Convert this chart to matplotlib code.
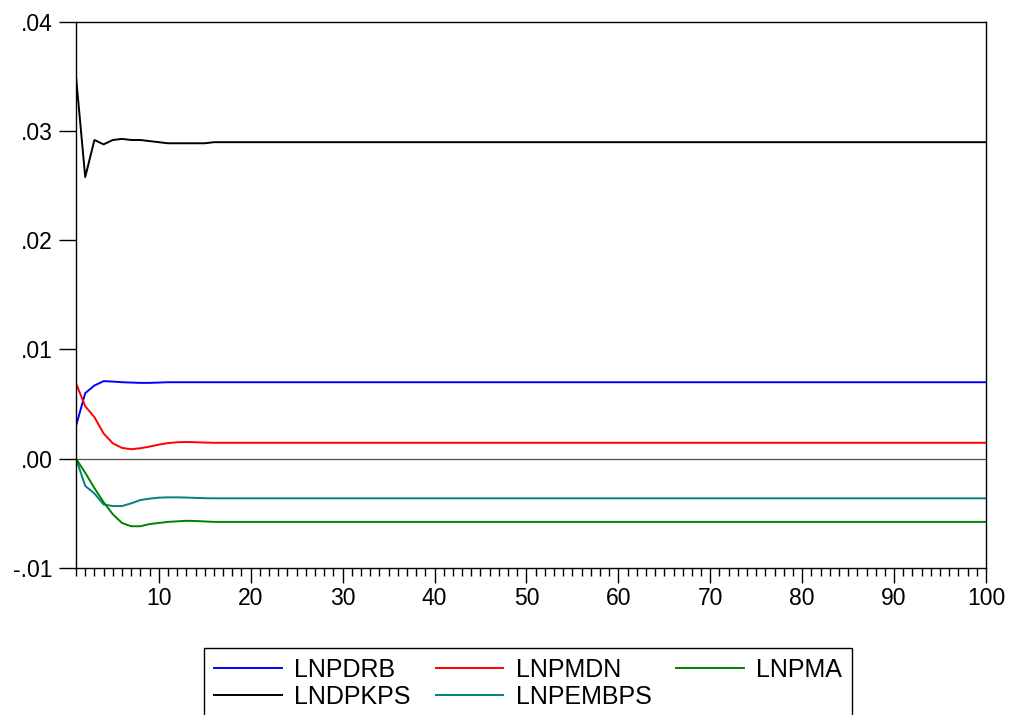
import matplotlib
matplotlib.use("Agg")
import matplotlib.pyplot as plt
from matplotlib.ticker import MultipleLocator, FuncFormatter
import numpy as np

plt.rcParams['font.family'] = ['Liberation Sans', 'DejaVu Sans']

N_PERIODS = 100
periods = np.arange(1, N_PERIODS + 1)

# Impulse responses: transient part, then the settled level
lnpdrb_start = [0.0030, 0.0060, 0.0067, 0.0071, 0.00706, 0.0070, 0.00697,
                0.00694, 0.00694, 0.00697]
lnpdrb_level = 0.0070

lnpmdn_start = [0.0069, 0.0048, 0.0038, 0.0023, 0.0014, 0.00098, 0.00086,
                0.00095, 0.0011, 0.00128, 0.00142, 0.0015, 0.00152, 0.0015,
                0.00147]
lnpmdn_level = 0.00145

lnpma_start = [0.0, -0.0013, -0.0027, -0.0040, -0.0051, -0.0059, -0.0062,
               -0.0062, -0.0060, -0.0059, -0.0058, -0.00575, -0.0057,
               -0.00572, -0.00576]
lnpma_level = -0.0058

lndpkps_start = [0.0350, 0.0258, 0.0292, 0.0288, 0.0292, 0.0293, 0.0292,
                 0.0292, 0.0291, 0.0290, 0.0289, 0.0289, 0.0289, 0.0289,
                 0.0289]
lndpkps_level = 0.0290

lnpembps_start = [0.0, -0.0025, -0.0032, -0.0042, -0.00435, -0.00435,
                  -0.0041, -0.0038, -0.00367, -0.00358, -0.00355, -0.00355,
                  -0.00357, -0.0036, -0.00363]
lnpembps_level = -0.00364


def full_path(start, level):
    return start + [level] * (N_PERIODS - len(start))


series = [
    ("LNPDRB", full_path(lnpdrb_start, lnpdrb_level), "#0000FF"),
    ("LNDPKPS", full_path(lndpkps_start, lndpkps_level), "#000000"),
    ("LNPMDN", full_path(lnpmdn_start, lnpmdn_level), "#FF0000"),
    ("LNPEMBPS", full_path(lnpembps_start, lnpembps_level), "#008080"),
    ("LNPMA", full_path(lnpma_start, lnpma_level), "#008000"),
]

fig = plt.figure(figsize=(10.11, 7.15), dpi=100)
ax = fig.add_axes([0.0752, 0.206, 0.9001, 0.763])

ax.axhline(0, color="#505050", lw=0.9, zorder=1)
handles = []
for name, vals, col in series:
    h, = ax.plot(periods, vals, color=col, lw=1.4, label=name, zorder=2)
    handles.append(h)

ax.set_xlim(1, 100)
ax.set_ylim(-0.01, 0.04)
ax.xaxis.set_major_locator(MultipleLocator(10))
ax.xaxis.set_minor_locator(MultipleLocator(1))
ax.yaxis.set_major_locator(MultipleLocator(0.01))


def fmt_y(v, pos):
    s = f"{v:.2f}"
    return s.replace("0.", ".", 1)


ax.yaxis.set_major_formatter(FuncFormatter(fmt_y))
ax.xaxis.set_major_formatter(FuncFormatter(lambda v, p: f"{int(v)}" if v >= 10 else ""))

ax.tick_params(axis="x", which="major", direction="out", length=11, width=1,
               labelsize=16.5, top=False, pad=3)
ax.tick_params(axis="x", which="minor", direction="out", length=6, width=1,
               top=False)
ax.tick_params(axis="y", which="major", direction="out", length=12, width=1,
               labelsize=16.5, right=False, pad=5)
for sp in ax.spines.values():
    sp.set_linewidth(1.0)

leg = fig.legend(handles=handles, labels=[s[0] for s in series], ncol=3,
                 loc="upper left", bbox_to_anchor=(0.2018, 0.0937),
                 fontsize=18, frameon=True, fancybox=False, shadow=False,
                 framealpha=1, edgecolor="black", handlelength=2.7,
                 handletextpad=0.5, columnspacing=1.0, labelspacing=0.1,
                 borderpad=0.4, borderaxespad=0)
leg.get_frame().set_linewidth(1.0)

fig.savefig("out.png", dpi=100)
